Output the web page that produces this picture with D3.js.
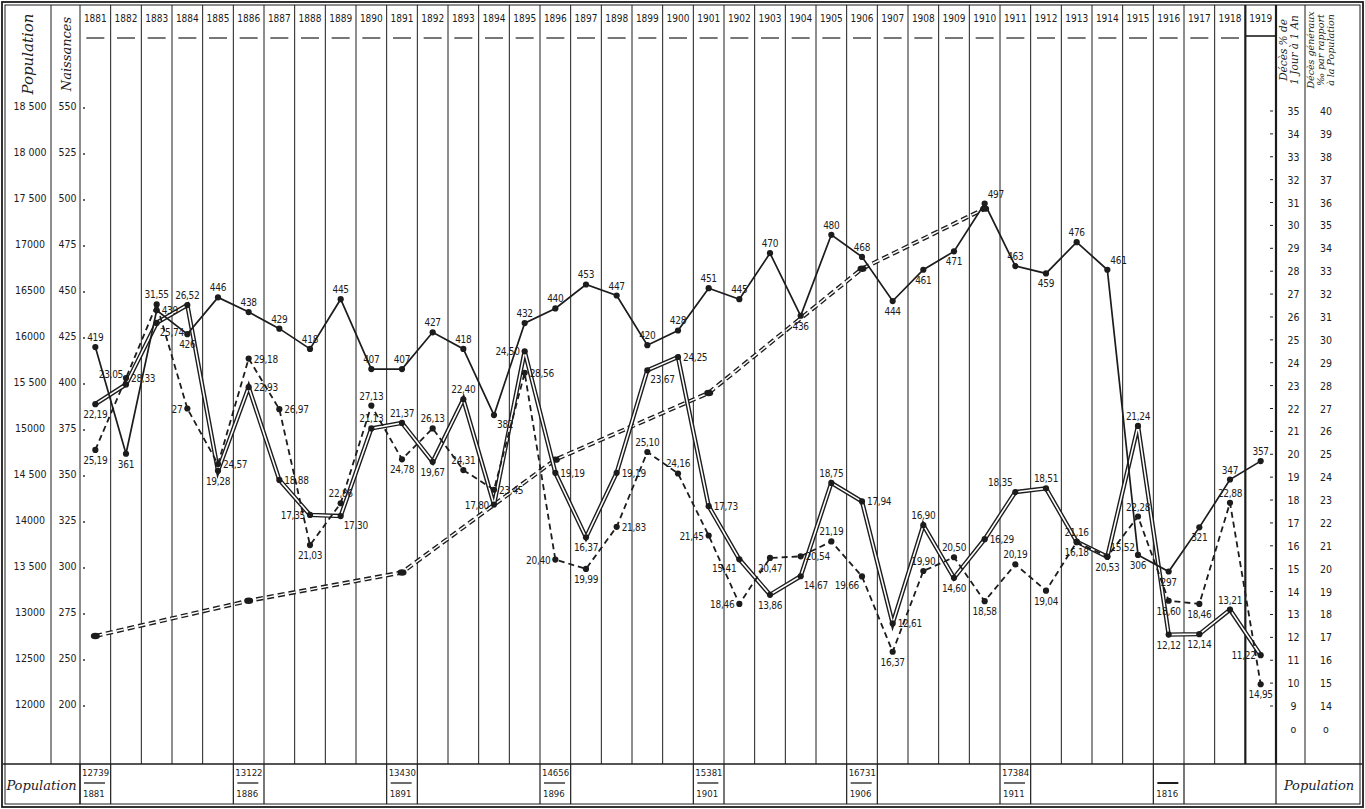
<!DOCTYPE html>
<html><head><meta charset="utf-8">
<script src="https://cdn.jsdelivr.net/npm/d3@7"></script>
<style>body{margin:0;background:#fff}svg{display:block}</style></head>
<body><svg id="c" width="1365" height="809"></svg>
<script>
// ---------------- DATA ----------------
const years = [1881,1882,1883,1884,1885,1886,1887,1888,1889,1890,1891,1892,1893,1894,1895,1896,1897,1898,1899,1900,
  1901,1902,1903,1904,1905,1906,1907,1908,1909,1910,1911,1912,1913,1914,1915,1916,1917,1918,1919];
// Naissances (births)
const births = [419,361,439,426,446,438,429,418,445,407,407,427,418,382,432,440,453,447,420,428,
  451,445,470,436,480,468,444,461,471,497,463,459,476,461,306,297,321,347,357];
// Décès % de 1 jour à 1 an (double line)
const infant = [22.19,23.05,25.74,26.52,19.28,22.93,18.88,17.35,17.30,21.13,21.37,19.67,22.40,17.80,24.50,19.19,16.37,19.19,23.67,24.25,
  17.73,15.41,13.86,14.67,18.75,17.94,12.61,16.90,14.60,16.29,18.35,18.51,16.18,15.52,21.24,12.12,12.14,13.21,11.22];
// Décès généraux ‰ (dashed line)
const general = [25.19,28.33,31.55,27,24.57,29.18,26.97,21.03,22.86,27.13,24.78,26.13,24.31,23.45,28.56,20.40,19.99,21.83,25.10,24.16,
  21.45,18.46,20.47,20.54,21.19,19.66,16.37,19.90,20.50,18.58,20.19,19.04,21.16,20.53,22.28,18.60,18.46,22.88,14.95];
// Population (census)
const censusYears = [1881,1886,1891,1896,1901,1906,1911,1916];
const censusValues = ["12739","13122","13430","14656","15381","16731","17384",""];
const censusYearLabels = ["1881","1886","1891","1896","1901","1906","1911","1816"];
const popLineYears = [1881,1886,1891,1896,1901,1906,1910];
const popLineValues = [12739,13122,13430,14656,15381,16731,17384];
// tick labels
const popTicks = [18500,18000,17500,17000,16500,16000,15500,15000,14500,14000,13500,13000,12500,12000];
const popTickLabels = ["18 500","18 000","17 500","17000","16500","16000","15 500","15000","14 500","14000","13 500","13000","12500","12000"];
const birthTickLabels = ["550","525","500","475","450","425","400","375","350","325","300","275","250","200"];
const infTicks = [35,34,33,32,31,30,29,28,27,26,25,24,23,22,21,20,19,18,17,16,15,14,13,12,11,10,9];
const genTickLabels = ["40","39","38","37","36","35","34","33","32","31","30","29","28","27","26","25","24","23","22","21","20","19","18","17","16","15","14"];
// label placement codes
const birthPos = ["n","s","e","s","n","n","n","n","n","n","n","n","n","se","n","n","n","n","n","n",
  "n","n","n","s","n","n","s","s","s","ne","n","s","n","ne","s","s","s","n","n"];
const infPos = ["s","nw","se","n","s","e","e","w","se","n","n","s","n","w","w","e","s","e","se","e",
  "e","sw","s","se","n","e","e","n","s","e","nw","n","s","ne","n","s","s","n","w"];
const genPos = ["s","e","n","w","e","e","e","s","n","n","s","n","n","e","e","w","s","e","n","n",
  "w","w","s","e","n","sw","s","n","n","s","n","s","n","s","n","s","s","n","s"];

// ---------------- LAYOUT ----------------
const svg = d3.select("#c");
const ink = "#1c1c1c";
const L = 3, R = 1362, T = 3, B = 806;
const gridL = 80, gridR = 1276, tableTop = 764;
const colA = 51, colB = 1305;

const x = d3.scaleBand().domain(years).range([gridL, gridR]).padding(0);
const cx = yv => x(yv) + x.bandwidth() / 2;
const xYear = d3.scaleLinear().domain([1881, 1919]).range([cx(1881), cx(1919)]);

const yPop = d3.scaleLinear().domain([12000, 18500]).range([704, 106]);
const yBirth = d3.scaleLinear().domain([225, 550]).range([704, 106]);
const yInf = d3.scaleLinear().domain([9, 35]).range([706, 111]);
const yGen = d3.scaleLinear().domain([14, 40]).range([706, 111]);

// frame (double border)
svg.append("rect").attr("x", L - 1).attr("y", T - 1).attr("width", R - L + 2).attr("height", B - T + 2)
  .attr("fill", "#fff").attr("stroke", ink).attr("stroke-width", 1.8);
svg.append("rect").attr("x", L + 2).attr("y", T + 2).attr("width", R - L - 4).attr("height", B - T - 4)
  .attr("fill", "none").attr("stroke", ink).attr("stroke-width", 1);

// vertical grid lines
const bounds = years.map(d => x(d)).concat([gridR]);
svg.append("g").selectAll("line").data(bounds).join("line")
  .attr("x1", d => d).attr("x2", d => d).attr("y1", T + 2).attr("y2", tableTop)
  .attr("stroke", ink).attr("stroke-width", (d, i) => (i >= bounds.length - 2) ? 2.2 : 1);
[colA, colB].forEach(v => svg.append("line").attr("x1", v).attr("x2", v).attr("y1", T + 2).attr("y2", tableTop)
  .attr("stroke", ink).attr("stroke-width", 1));

// header years
const hdr = svg.append("g").attr("font-family", "DejaVu Sans Condensed, sans-serif").attr("font-size", 10).attr("fill", ink);
hdr.selectAll("text").data(years).join("text")
  .attr("x", d => cx(d)).attr("y", 22).attr("text-anchor", "middle").text(d => d);
svg.append("g").selectAll("line").data(years.slice(0, -1)).join("line")
  .attr("x1", d => cx(d) - 9).attr("x2", d => cx(d) + 9).attr("y1", 38).attr("y2", 38)
  .attr("stroke", ink).attr("stroke-width", 1.2);
svg.append("line").attr("x1", x(1919)).attr("x2", gridR).attr("y1", 36).attr("y2", 36)
  .attr("stroke", ink).attr("stroke-width", 1.6);

// left headers
const script = "DejaVu Serif, serif";
svg.append("text").attr("transform", `translate(${(L + colA) / 2 + 6},54) rotate(-90)`)
  .attr("text-anchor", "middle").attr("font-family", script).attr("font-style", "italic")
  .attr("font-size", 15).attr("fill", ink).text("Population");
svg.append("text").attr("transform", `translate(${(colA + gridL) / 2 + 5},54) rotate(-90)`)
  .attr("text-anchor", "middle").attr("font-family", script).attr("font-style", "italic")
  .attr("font-size", 13).attr("fill", ink).text("Naissances");

// right headers
const rh1 = ["Décès % de", "1 Jour à 1 An"];
svg.append("g").selectAll("text").data(rh1).join("text")
  .attr("transform", (d, i) => `translate(${1287 + i * 11},50) rotate(-90)`)
  .attr("text-anchor", "middle").attr("font-family", script).attr("font-style", "italic")
  .attr("font-size", 10.5).attr("fill", ink).text(d => d);
const rh2 = ["Décès généraux", "‰ par rapport", "à la Population"];
svg.append("g").selectAll("text").data(rh2).join("text")
  .attr("transform", (d, i) => `translate(${1314 + i * 10},50) rotate(-90)`)
  .attr("text-anchor", "middle").attr("font-family", script).attr("font-style", "italic")
  .attr("font-size", 9.5).attr("fill", ink).text(d => d);

// left tick labels
const tk = svg.append("g").attr("font-family", "DejaVu Sans Condensed, sans-serif").attr("font-size", 10.5).attr("fill", ink);
tk.selectAll(".pl").data(popTicks).join("text").attr("class", "pl")
  .attr("x", (L + colA) / 2 + 3).attr("y", d => yPop(d) + 4).attr("text-anchor", "middle")
  .text((d, i) => popTickLabels[i]);
tk.selectAll(".bl").data(popTicks).join("text").attr("class", "bl")
  .attr("x", (colA + gridL) / 2 + 2).attr("y", d => yPop(d) + 4).attr("text-anchor", "middle")
  .text((d, i) => birthTickLabels[i]);
svg.append("g").selectAll("circle").data(popTicks).join("circle")
  .attr("cx", gridL + 4).attr("cy", d => yPop(d) + 2).attr("r", 0.9).attr("fill", ink);

// right tick labels
const zeroY = yInf(9) + (yInf(9) - yInf(10));
tk.selectAll(".il").data(infTicks).join("text").attr("class", "il")
  .attr("x", (gridR + colB) / 2 + 3).attr("y", d => yInf(d) + 4).attr("text-anchor", "middle").text(d => d);
tk.selectAll(".gl").data(infTicks).join("text").attr("class", "gl")
  .attr("x", 1326).attr("y", d => yInf(d) + 4).attr("text-anchor", "middle").text((d, i) => genTickLabels[i]);
tk.append("text").attr("x", (gridR + colB) / 2 + 3).attr("y", zeroY + 4).attr("text-anchor", "middle").text("o");
tk.append("text").attr("x", 1326).attr("y", zeroY + 4).attr("text-anchor", "middle").text("o");
svg.append("g").selectAll("line").data(infTicks).join("line")
  .attr("x1", gridR - 6).attr("x2", gridR - 3).attr("y1", d => yInf(d)).attr("y2", d => yInf(d))
  .attr("stroke", ink).attr("stroke-width", 1);

// ---------------- SERIES ----------------
const line = d3.line();
// population (double dashed)
const popPts = popLineYears.map((yr, i) => [xYear(yr), yPop(popLineValues[i])]);
svg.append("path").attr("d", line(popPts)).attr("fill", "none").attr("stroke", ink)
  .attr("stroke-width", 4.2).attr("stroke-dasharray", "7,4");
svg.append("path").attr("d", line(popPts)).attr("fill", "none").attr("stroke", "#fff")
  .attr("stroke-width", 1.5).attr("stroke-dasharray", "7,4");
svg.append("g").selectAll("ellipse").data(popPts).join("ellipse")
  .attr("cx", d => d[0]).attr("cy", d => d[1]).attr("rx", 4.5).attr("ry", 3.2).attr("fill", ink);

// infant (double line)
const infPts = years.map((yr, i) => [cx(yr), yInf(infant[i])]);
svg.append("path").attr("d", line(infPts)).attr("fill", "none").attr("stroke", ink)
  .attr("stroke-width", 4.4).attr("stroke-linejoin", "miter");
svg.append("path").attr("d", line(infPts)).attr("fill", "none").attr("stroke", "#fff")
  .attr("stroke-width", 1.6).attr("stroke-linejoin", "miter");

// general deaths (dashed)
const genPts = years.map((yr, i) => [cx(yr), yGen(general[i])]);
svg.append("path").attr("d", line(genPts)).attr("fill", "none").attr("stroke", ink)
  .attr("stroke-width", 1.8).attr("stroke-dasharray", "6,4");

// births (solid)
const birthPts = years.map((yr, i) => [cx(yr), yBirth(births[i])]);
svg.append("path").attr("d", line(birthPts)).attr("fill", "none").attr("stroke", ink)
  .attr("stroke-width", 1.7);

[infPts, genPts, birthPts].forEach(pts => {
  svg.append("g").selectAll("circle").data(pts).join("circle")
    .attr("cx", d => d[0]).attr("cy", d => d[1]).attr("r", 3.1).attr("fill", ink);
});

// value labels
const fmt = v => (Number.isInteger(v) ? String(v) : v.toFixed(2).replace(".", ","));
const place = {
  n: [0, -6, "middle"], s: [0, 14, "middle"], e: [5, 4, "start"], w: [-5, 4, "end"],
  ne: [3, -6, "start"], nw: [-3, -6, "end"], se: [3, 13, "start"], sw: [-3, 13, "end"]
};
function labels(pts, vals, pos) {
  svg.append("g").attr("font-family", "DejaVu Sans Condensed, sans-serif").attr("font-size", 10)
    .attr("fill", ink).attr("letter-spacing", -0.3)
    .selectAll("text").data(pts).join("text")
    .attr("x", (d, i) => d[0] + place[pos[i]][0])
    .attr("y", (d, i) => d[1] + place[pos[i]][1])
    .attr("text-anchor", (d, i) => place[pos[i]][2])
    .text((d, i) => fmt(vals[i]));
}
labels(birthPts, births, birthPos);
labels(infPts, infant, infPos);
labels(genPts, general, genPos);

// ---------------- BOTTOM TABLE ----------------
svg.append("line").attr("x1", L).attr("x2", R).attr("y1", tableTop).attr("y2", tableTop)
  .attr("stroke", ink).attr("stroke-width", 1.6);
const cellEdges = [gridL, gridR];
censusYears.forEach(yr => { cellEdges.push(x(yr)); cellEdges.push(x(yr) + x.bandwidth()); });
svg.append("g").selectAll("line").data(cellEdges).join("line")
  .attr("x1", d => d).attr("x2", d => d).attr("y1", tableTop).attr("y2", B - 2)
  .attr("stroke", ink).attr("stroke-width", 1.2);
const tb = svg.append("g").attr("font-family", "DejaVu Sans Condensed, sans-serif").attr("font-size", 9.5).attr("fill", ink);
tb.selectAll(".cv").data(censusYears).join("text").attr("class", "cv")
  .attr("x", d => x(d) + 2).attr("y", 776).text((d, i) => censusValues[i]);
tb.selectAll(".cy").data(censusYears).join("text").attr("class", "cy")
  .attr("x", d => x(d) + 3).attr("y", 797).text((d, i) => censusYearLabels[i]);
svg.append("g").selectAll("line").data(censusYears).join("line")
  .attr("x1", d => x(d) + 4).attr("x2", d => x(d) + 25).attr("y1", 783).attr("y2", 783)
  .attr("stroke", ink).attr("stroke-width", (d, i) => censusValues[i] ? 1.3 : 2);
svg.append("text").attr("x", (L + gridL) / 2).attr("y", 790).attr("text-anchor", "middle")
  .attr("font-family", script).attr("font-style", "italic").attr("font-size", 13).attr("fill", ink).text("Population");
svg.append("text").attr("x", (gridR + R) / 2).attr("y", 790).attr("text-anchor", "middle")
  .attr("font-family", script).attr("font-style", "italic").attr("font-size", 13).attr("fill", ink).text("Population");
</script></body></html>
